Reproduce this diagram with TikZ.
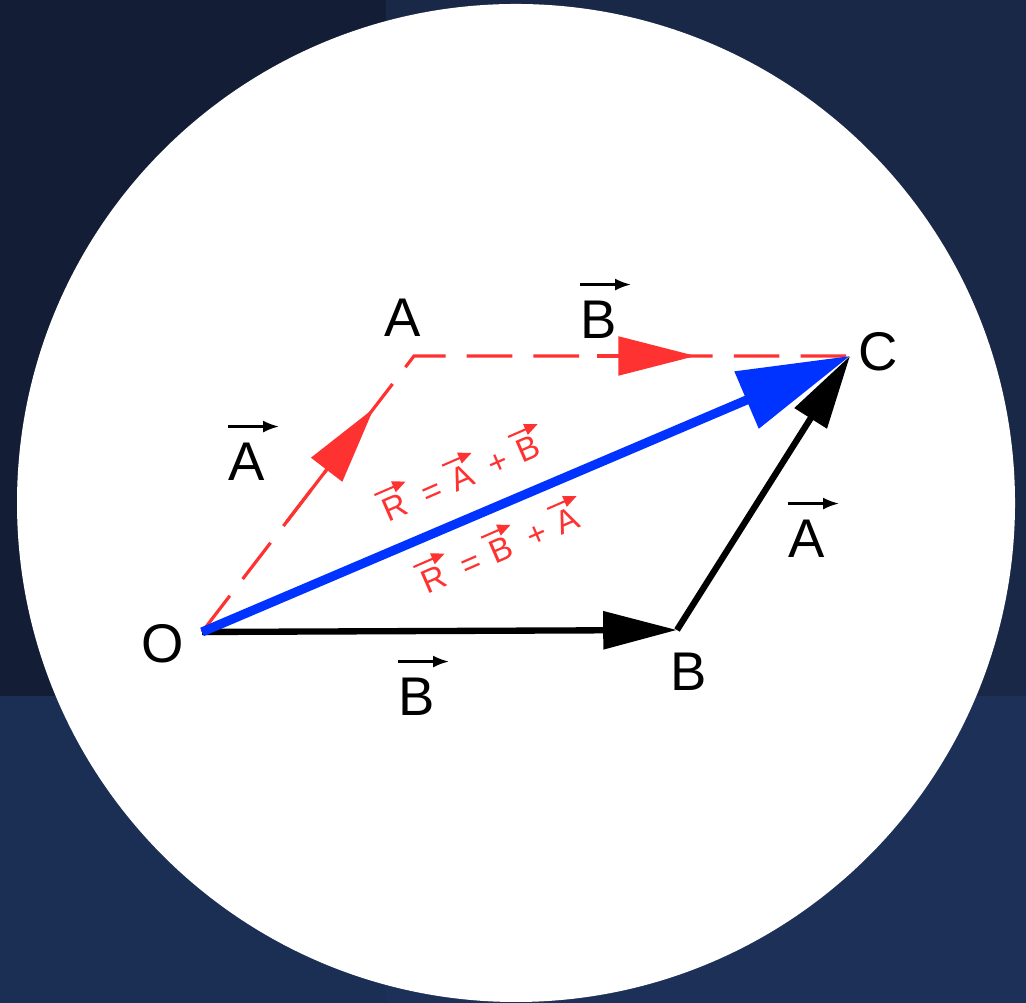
\documentclass[tikz,border=0pt]{standalone}
\usepackage{fontspec}
\setmainfont{Liberation Sans}
\usetikzlibrary{calc, arrows.meta, positioning}

\definecolor{bgTopLeft}{RGB}{19,29,53}
\definecolor{bgTopRight}{RGB}{26,40,72}
\definecolor{bgBotLeft}{RGB}{27,46,84}
\definecolor{bgBotRight}{RGB}{29,49,88}
\definecolor{vecRed}{RGB}{255,50,50}
\definecolor{vecBlue}{RGB}{0,51,255}

\newcommand{\redVec}[1]{%
  \tikz[baseline=(v.base)]{\node[inner sep=0pt] (v) {#1};
    \draw[vecRed, -{Triangle[length=3.8pt,width=3.2pt]}, line width=0.6pt]
      ([shift={(-0.5pt,2pt)}]v.north west) -- ([shift={(2pt,2pt)}]v.north east);}}

\tikzset{
  lbl/.style={font=\fontsize{15.5}{18}\selectfont, inner sep=0pt, text=black},
  eqRed/.style={font=\fontsize{9.4}{11}\selectfont, inner sep=0pt, text=vecRed},
  overArrow/.style={-{Latex[length=4.5pt,width=3.4pt]}, line width=0.6pt},
  dashRed/.style={vecRed, line width=0.9pt, dash pattern=on 13pt off 6pt},
  midRed/.style={vecRed, line width=0.9pt, -{Triangle[length=22pt,width=11pt]}},
  vecBlack/.style={black, line width=1.8pt, -{Triangle[length=21pt,width=10.5pt]}},
  resultant/.style={vecBlue, line width=2.6pt, -{Triangle[length=32pt,width=17pt]}}
}

\begin{document}
\begin{tikzpicture}
  \useasboundingbox (0,0) rectangle (10.26,10.03);
  % backdrop
  \fill[bgTopLeft] (0,3.07) rectangle (3.86,10.03);
  \fill[bgTopRight] (3.86,3.07) rectangle (10.26,10.03);
  \fill[bgBotLeft] (0,0) rectangle (3.86,3.07);
  \fill[bgBotRight] (3.86,0) rectangle (10.26,3.07);
  \fill[white] (5.16,5.00) circle (4.99);

  \coordinate (O) at (2.02,3.71);
  \coordinate (A) at (4.14,6.47);
  \coordinate (B) at (6.77,3.73);
  \coordinate (C) at (8.50,6.47);

  % parallelogram: dashed red sides
  \draw[dashRed] (O) -- (A) -- (C);
  \draw[midRed] ($(O)!0.40!(A)$) -- ($(O)!0.81!(A)$);
  \draw[midRed] ($(A)!0.42!(C)$) -- ($(A)!0.646!(C)$);

  % B, resultant, then A
  \draw[vecBlack] (O) -- (B);
  \draw[resultant] (O) -- (C);
  \draw[vecBlack] (B) -- (C);

  % point labels
  \node[lbl] (labO) at (1.63,3.59) {O};
  \node[lbl] (labA) at (4.03,6.85) {A};
  \node[lbl] (labB) at (6.89,3.31) {B};
  \node[lbl] (labC) at (8.78,6.51) {C};

  % vector labels
  \node[lbl] (vecAl) at (2.47,5.41) {A};
  \node[lbl] (vecAr) at (8.07,4.64) {A};
  \node[lbl] (vecBt) at (5.99,6.83) {B};
  \node[lbl] (vecBb) at (4.17,3.06) {B};
  \foreach \n in {vecAl,vecAr,vecBt,vecBb}
    \draw[overArrow] ([yshift=0.16cm]\n.north west) -- ([shift={(0.13cm,0.16cm)}]\n.north east);

  % sums along the resultant
  \node[eqRed, rotate=23.5] (sumAB) at (4.61,5.32) {\redVec{R} = \redVec{A} + \redVec{B}};
  \node[eqRed, rotate=23.5] (sumBA) at (5.00,4.60) {\redVec{R} = \redVec{B} + \redVec{A}};
\end{tikzpicture}
\end{document}
